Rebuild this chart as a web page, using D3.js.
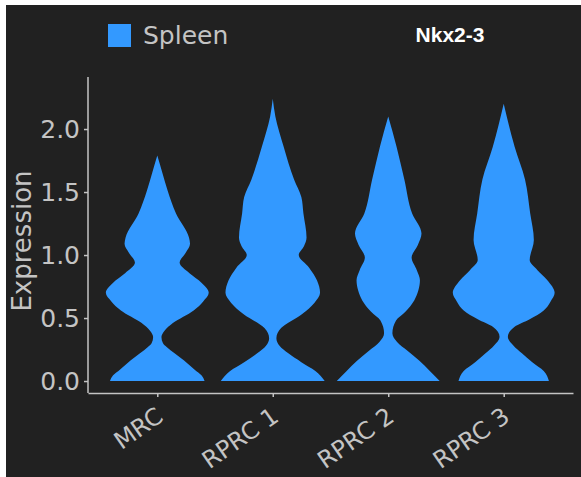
<!DOCTYPE html>
<html>
<head>
<meta charset="utf-8">
<script src="https://cdn.jsdelivr.net/npm/d3@7"></script>
<style>
  body { margin: 0; background: #fff; }
  svg text { font-family: "DejaVu Sans", sans-serif; }
</style>
</head>
<body>
<div id="vis"></div>
<script>
// clusters along the x axis
var clusters = ["MRC", "RPRC 1", "RPRC 2", "RPRC 3"];

// violin outlines:
// expression level and relative width (1 = widest violin)
var mrcLevels   = [1.79, 1.65, 1.51, 1.33, 1.14, 1.09, 1.02, 0.94, 0.855, 0.78, 0.70, 0.63, 0.56, 0.46, 0.40, 0.35, 0.30, 0.27, 0.165, 0.09, 0.045, 0];
var mrcWidths   = [0, 0.10, 0.20, 0.36, 0.61, 0.63, 0.55, 0.43, 0.62, 0.85, 0.99, 0.88, 0.70, 0.30, 0.14, 0.08, 0.11, 0.18, 0.51, 0.72, 0.85, 0.91];
var rprc1Levels = [2.24, 2.10, 1.86, 1.60, 1.46, 1.33, 1.14, 1.07, 1.00, 0.90, 0.80, 0.70, 0.62, 0.53, 0.42, 0.34, 0.28, 0.22, 0.15, 0.08, 0];
var rprc1Widths = [0, 0.05, 0.21, 0.41, 0.55, 0.59, 0.65, 0.60, 0.50, 0.70, 0.85, 0.91, 0.80, 0.56, 0.16, 0.07, 0.13, 0.30, 0.55, 0.82, 1.0];
var rprc2Levels = [2.10, 1.86, 1.60, 1.33, 1.17, 1.08, 0.98, 0.88, 0.80, 0.72, 0.64, 0.55, 0.48, 0.38, 0.31, 0.24, 0.16, 0.08, 0];
var rprc2Widths = [0, 0.16, 0.31, 0.46, 0.64, 0.57, 0.45, 0.55, 0.61, 0.58, 0.50, 0.33, 0.15, 0.08, 0.17, 0.37, 0.60, 0.80, 0.99];
var rprc3Levels = [2.20, 1.86, 1.60, 1.33, 1.12, 0.96, 0.88, 0.80, 0.70, 0.63, 0.56, 0.49, 0.43, 0.35, 0.28, 0.22, 0.15, 0.08, 0];
var rprc3Widths = [0, 0.21, 0.41, 0.51, 0.58, 0.50, 0.65, 0.84, 0.98, 0.90, 0.77, 0.50, 0.21, 0.08, 0.19, 0.35, 0.55, 0.77, 0.87];

var yTicks = [0, 0.5, 1.0, 1.5, 2.0];
var geneName = "Nkx2-3";
var tissue = "Spleen";

var violins = [
  {name: clusters[0], levels: mrcLevels, widths: mrcWidths},
  {name: clusters[1], levels: rprc1Levels, widths: rprc1Widths},
  {name: clusters[2], levels: rprc2Levels, widths: rprc2Widths},
  {name: clusters[3], levels: rprc3Levels, widths: rprc3Widths}
];

var W = 581, H = 477;
var bg = "#212121", fg = "#c4c4c4", blue = "#3399ff";

var svg = d3.select("#vis").append("svg")
  .attr("width", W)
  .attr("height", H);

// white strip on left/top, dark panel elsewhere
svg.append("rect").attr("width", W).attr("height", H).attr("fill", "#fff");
svg.append("rect")
  .attr("x", 6).attr("y", 5)
  .attr("width", W - 6).attr("height", H - 5)
  .attr("fill", bg);

var panel = {left: 88, right: 573, top: 77, bottom: 393};

var x = d3.scalePoint()
  .domain(clusters)
  .range([panel.left, panel.right])
  .padding(0.6);

var y = d3.scaleLinear()
  .domain([-0.095, 2.413])
  .range([panel.bottom, panel.top]);

// half width of a violin
var w = d3.scaleLinear()
  .domain([0, 1])
  .range([0, x.step() * 0.45]);

var area = d3.area()
  .curve(d3.curveMonotoneY)
  .y(function(d){ return y(d[0]); })
  .x0(function(d){ return -w(d[1]); })
  .x1(function(d){ return w(d[1]); });

svg.append("g")
  .selectAll("path")
  .data(violins)
  .join("path")
    .attr("transform", function(d){ return "translate(" + x(d.name) + ",0)"; })
    .attr("d", function(d){ return area(d3.zip(d.levels, d.widths)); })
    .attr("fill", blue);

// axes
var yAxis = d3.axisLeft(y)
  .tickValues(yTicks)
  .tickFormat(d3.format(".1f"))
  .tickSize(4)
  .tickSizeOuter(0)
  .tickPadding(4);

var xAxis = d3.axisBottom(x)
  .tickSize(4)
  .tickSizeOuter(0);

var yg = svg.append("g")
  .attr("transform", "translate(" + panel.left + ",0)")
  .call(yAxis);
yg.select(".domain").attr("d", "M0," + panel.top + "V" + panel.bottom);

var xg = svg.append("g")
  .attr("transform", "translate(0," + panel.bottom + ")")
  .call(xAxis);

svg.selectAll(".domain, .tick line")
  .attr("stroke", fg)
  .attr("stroke-width", 1.5);

yg.selectAll("text")
  .attr("fill", fg)
  .attr("font-size", 25)
  .attr("font-family", "DejaVu Sans");

xg.selectAll("text")
  .attr("fill", fg)
  .attr("font-size", 24)
  .attr("font-family", "DejaVu Sans")
  .attr("text-anchor", "end")
  .attr("y", 0)
  .attr("dy", 0)
  .attr("transform", "translate(7,27) rotate(-35)");

// y axis title
svg.append("text")
  .attr("transform", "translate(31,241) rotate(-90)")
  .attr("text-anchor", "middle")
  .attr("fill", fg)
  .attr("font-size", 26)
  .text("Expression");

// legend
svg.append("rect")
  .attr("x", 108).attr("y", 24)
  .attr("width", 23).attr("height", 23)
  .attr("fill", blue);
svg.append("text")
  .attr("x", 143).attr("y", 44)
  .attr("fill", fg)
  .attr("font-size", 25)
  .text(tissue);

// gene title
svg.append("text")
  .attr("x", 450).attr("y", 42)
  .attr("text-anchor", "middle")
  .attr("fill", "#fff")
  .attr("font-weight", "bold")
  .attr("font-size", 21)
  .style("font-family", "'Liberation Sans', Arial, sans-serif")
  .text(geneName);
</script>
</body>
</html>
